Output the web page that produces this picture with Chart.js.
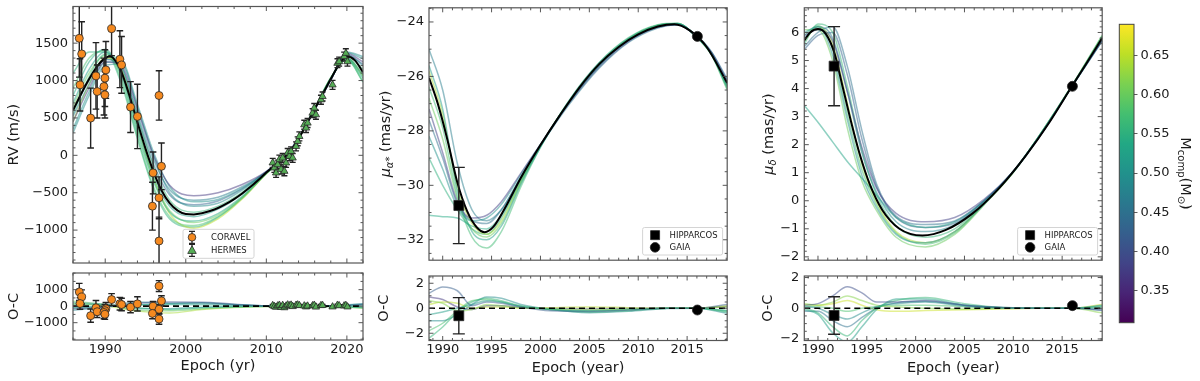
<!DOCTYPE html>
<html>
<head>
<meta charset="utf-8">
<script src="https://cdn.jsdelivr.net/npm/chart.js@4.4.1/dist/chart.umd.min.js"></script>
<style>
  html, body { margin: 0; padding: 0; background: #fff; }
  #fig { position: relative; width: 1200px; height: 381px; overflow: hidden; }
  #fig canvas { position: absolute; }
</style>
</head>
<body>
<div id="fig">
  <canvas id="rv" width="372" height="268" style="left:0;top:0"></canvas>
  <canvas id="pma" width="360" height="268" style="left:375px;top:0"></canvas>
  <canvas id="pmd" width="355" height="268" style="left:755px;top:0"></canvas>
  <canvas id="rvoc" width="372" height="113" style="left:0;top:268px"></canvas>
  <canvas id="pmaoc" width="360" height="113" style="left:375px;top:268px"></canvas>
  <canvas id="pmdoc" width="355" height="113" style="left:755px;top:268px"></canvas>
  <canvas id="cbar" width="95" height="381" style="left:1105px;top:0"></canvas>
</div>
<script>
// axis limits / ticks
const rvEpochRange = [1986, 2022];
const rvRange = [-1440, 1990];
const rvOcRange = [-2050, 2010];
const pmEpochRange = [1988.6, 2019.1];
const pmaRange = [-32.75, -23.48];
const pmaOcRange = [-2.58, 2.58];
const pmdRange = [-2.12, 6.88];
const pmdOcRange = [-2.1, 2.1];
const massRange = [0.309, 0.69];

const rvEpochTicks = [1990, 2000, 2010, 2020];
const rvTicks = [-1000, -500, 0, 500, 1000, 1500];
const rvOcTicks = [-1000, 0, 1000];
const pmEpochTicks = [1990, 1995, 2000, 2005, 2010, 2015];
const pmaTicks = [-32, -30, -28, -26, -24];
const pmdTicks = [-2, -1, 0, 1, 2, 3, 4, 5, 6];
const ocTicks = [-2, 0, 2];
const massTicks = [0.35, 0.40, 0.45, 0.50, 0.55, 0.60, 0.65];
const ocZero = [0, 0];

// radial velocities
const coravelEpoch = [1986.78, 1987.08, 1986.87, 1988.19, 1988.85, 1989.0, 1990.08, 1989.96, 1989.84, 1989.96, 1990.79, 1991.82, 1992.03, 1993.14, 1994.0, 1996.68, 1995.94, 1996.98, 1996.68, 1995.86, 1996.68];
const coravelRV = [1565, 1356, 942, 498, 1062, 853, 1142, 1032, 920, 809, 1693, 1285, 1209, 645, 520, 800, -235, -147, -568, -680, -1146];
const coravelErr = [520, 430, 350, 400, 445, 355, 380, 380, 380, 310, 360, 380, 380, 340, 430, 330, 280, 312, 280, 320, 320];
const coravelOC = [864, 560, 160, -576, -100, -336, -160, -270, -380, -490, 400, 150, 100, -60, 140, 1220, 0, 320, -190, -440, -780];

const hermesEpoch = [2010.79, 2011.0, 2011.21, 2011.41, 2011.62, 2011.83, 2012.03, 2012.24, 2012.45, 2012.65, 2012.86, 2013.07, 2013.27, 2013.69, 2013.89, 2014.1, 2014.71, 2014.93, 2015.12, 2015.74, 2015.95, 2016.16, 2016.78, 2016.98, 2018.22, 2018.83, 2019.04, 2019.66, 2019.87, 2020.07];
const hermesRV = [-101, -168, -235, -124, -57, -190, -35, -213, -101, 32, -13, 53, -35, 120, 187, 253, 409, 365, 432, 565, 632, 543, 743, 787, 942, 1232, 1253, 1320, 1365, 1253];
const hermesErr = [60, 60, 60, 60, 60, 60, 60, 60, 60, 60, 60, 60, 60, 60, 60, 60, 60, 60, 60, 60, 60, 60, 60, 60, 60, 60, 60, 60, 60, 60];
const hermesOC = [40, -20, -60, 20, 60, -70, 50, -90, 10, 80, 30, 70, -20, 60, 80, 40, 20, -40, 10, 30, 60, -50, 40, 50, -40, 60, 30, 20, 50, -40];

const rvFitEpoch = [1986, 1987, 1988, 1989, 1990, 1990.6, 1991, 1992, 1993, 1994, 1995, 1996, 1997, 1998, 1999, 2000, 2001, 2002, 2003, 2004, 2005, 2006, 2007, 2008, 2009, 2010, 2011, 2012, 2013, 2014, 2015, 2016, 2017, 2018, 2019, 2020, 2021, 2022];
const rvFit = [600, 820, 1020, 1190, 1300, 1320, 1300, 1120, 800, 440, 90, -220, -470, -640, -740, -785, -790, -775, -745, -705, -650, -585, -510, -425, -330, -230, -140, -50, 60, 220, 420, 620, 820, 1020, 1210, 1320, 1270, 1110];

const rvModelEpoch = [1986, 1988, 1990, 1992, 1994, 1996, 1998, 2001, 2004, 2007, 2010, 2013, 2016, 2018, 2020, 2022];
const rvModelMass = [0.37, 0.47, 0.50, 0.52, 0.54, 0.56, 0.58, 0.60, 0.65, 0.49, 0.43, 0.55];
const rvModels = [
  [450, 900, 1250, 1200, 620, 0, -400, -540, -500, -390, -215, 75, 610, 1005, 1360, 1250],
  [520, 950, 1280, 1180, 560, -60, -460, -600, -560, -420, -220, 70, 612, 1010, 1345, 1200],
  [350, 850, 1240, 1250, 680, 40, -420, -620, -590, -440, -222, 68, 615, 1012, 1370, 1290],
  [700, 1150, 1380, 1100, 380, -280, -680, -820, -720, -515, -232, 58, 622, 1025, 1310, 1080],
  [800, 1250, 1420, 1050, 300, -350, -760, -880, -780, -550, -238, 55, 625, 1030, 1295, 1030],
  [550, 1050, 1350, 1200, 520, -150, -600, -760, -680, -495, -228, 62, 618, 1018, 1330, 1150],
  [900, 1300, 1400, 1000, 250, -420, -820, -940, -820, -570, -242, 50, 628, 1035, 1285, 990],
  [650, 1100, 1330, 1080, 350, -320, -740, -900, -800, -560, -240, 52, 624, 1028, 1300, 1060],
  [450, 950, 1300, 1150, 420, -300, -780, -975, -850, -585, -245, 48, 626, 1032, 1305, 1070],
  [300, 800, 1200, 1220, 640, -10, -500, -680, -640, -465, -224, 66, 614, 1014, 1380, 1320],
  [600, 1000, 1290, 1150, 500, -120, -530, -660, -610, -450, -225, 65, 616, 1016, 1340, 1220],
  [1100, 1380, 1380, 960, 220, -450, -850, -960, -830, -575, -243, 50, 628, 1040, 1280, 980]
];

const rvOcEpoch = [1986, 1990, 1994, 1998, 2002, 2006, 2010, 2014, 2018, 2022];
const rvOcMass = [0.40, 0.55, 0.48, 0.50, 0.60, 0.52, 0.64, 0.53];
const rvOcModels = [
  [-150, -50, 180, 250, 240, 120, 20, 10, 10, 100],
  [100, 80, -100, -200, -100, -40, -5, -5, -10, -50],
  [-250, -60, 250, 180, 180, 90, 15, 8, 30, 150],
  [200, 100, -150, -150, -60, -20, -10, -5, -15, -80],
  [300, 100, -250, -280, -160, -60, -15, -10, -20, -120],
  [-50, -10, 100, 100, 90, 50, 10, 5, 15, 60],
  [150, 20, -300, -420, -200, -80, -15, -8, -15, -100],
  [-100, -30, 80, 150, 200, 100, 15, 5, 20, 120]
];

// proper motions
const hipEpoch = [1991.65];
const gaiaEpoch = [2016.05];
const hipPma = [-30.74];
const hipPmaErr = [1.4];
const gaiaPma = [-24.53];
const hipPmaOC = [-0.6];
const hipPmaOCErr = [1.45];
const gaiaPmaOC = [-0.14];
const hipPmd = [4.8];
const hipPmdErr = [1.41];
const gaiaPmd = [4.08];
const hipPmdOC = [-0.47];
const hipPmdOCErr = [1.22];
const gaiaPmdOC = [0.17];

const pmaFitEpoch = [1988.6, 1989.5, 1990.5, 1991.5, 1992.5, 1993.5, 1994.3, 1995.2, 1996.5, 1998, 2000, 2002, 2004, 2006, 2008, 2010, 2012, 2013.7, 2015.3, 2017, 2019.1];
const pmaFit = [-26.05, -27.0, -28.35, -29.9, -30.95, -31.55, -31.72, -31.52, -30.75, -29.72, -28.52, -27.42, -26.4, -25.55, -24.92, -24.46, -24.17, -24.08, -24.32, -24.92, -26.24];

const pmModelEpoch = [1988.6, 1990, 1991.5, 1993, 1994.5, 1996, 1998, 2000, 2003, 2006, 2009, 2012, 2014, 2016, 2017.5, 2019.1];
const pmaModelMass = [0.38, 0.47, 0.50, 0.52, 0.54, 0.57, 0.60, 0.64, 0.45, 0.55];
const pmaModels = [
  [-27.2, -28.8, -30.6, -31.2, -31.1, -30.6, -29.55, -28.5, -26.95, -25.65, -24.72, -24.2, -24.1, -24.55, -25.12, -26.15],
  [-25.0, -26.5, -29.2, -30.9, -31.3, -30.9, -29.7, -28.55, -27.0, -25.7, -24.75, -24.22, -24.1, -24.5, -25.1, -26.1],
  [-28.2, -29.4, -30.8, -31.3, -31.2, -30.7, -29.6, -28.5, -26.9, -25.6, -24.68, -24.18, -24.08, -24.54, -25.15, -26.3],
  [-25.6, -27.2, -30.2, -31.7, -32.0, -31.5, -29.95, -28.6, -26.85, -25.5, -24.6, -24.12, -24.06, -24.56, -25.2, -26.4],
  [-31.1, -31.15, -31.2, -31.5, -31.6, -31.1, -29.8, -28.55, -26.92, -25.6, -24.65, -24.15, -24.07, -24.55, -25.18, -26.35],
  [-26.4, -27.9, -30.4, -31.9, -32.3, -31.7, -30.05, -28.6, -26.85, -25.5, -24.58, -24.1, -24.05, -24.57, -25.22, -26.5],
  [-26.8, -28.3, -30.5, -31.6, -31.9, -31.4, -29.9, -28.55, -26.88, -25.55, -24.62, -24.12, -24.06, -24.56, -25.2, -26.45],
  [-25.8, -27.4, -30.1, -31.4, -31.8, -31.3, -29.85, -28.55, -26.9, -25.55, -24.63, -24.13, -24.07, -24.56, -25.18, -26.35],
  [-27.6, -29.0, -30.7, -31.3, -31.4, -30.9, -29.7, -28.52, -26.92, -25.6, -24.68, -24.17, -24.09, -24.55, -25.14, -26.2],
  [-29.0, -30.0, -30.9, -31.6, -31.8, -31.2, -29.85, -28.55, -26.9, -25.57, -24.64, -24.14, -24.07, -24.55, -25.16, -26.3]
];

const pmOcEpoch = [1988.6, 1990, 1991.5, 1993, 1994.5, 1996, 1998, 2001, 2005, 2009, 2013, 2016, 2019.1];
const pmaOcMass = [0.42, 0.56, 0.62, 0.49, 0.52, 0.65, 0.58, 0.37];
const pmaOcModels = [
  [1.2, 1.7, 1.4, 0.2, 0.5, 0.4, 0.1, -0.2, -0.25, -0.15, 0, 0, 0.3],
  [-2.4, -1.5, -0.3, 0.5, 0.8, 0.6, 0.2, -0.1, -0.3, -0.2, 0, 0, -0.3],
  [0.6, 0.4, -0.2, -0.1, 0.3, 0.2, 0.05, -0.05, -0.1, -0.05, 0, 0.02, 0.1],
  [-1.0, -1.0, -0.5, 0.3, 0.9, 0.8, 0.3, -0.1, -0.35, -0.25, -0.02, 0, -0.4],
  [-0.5, -0.3, 0.0, 0.3, 0.6, 0.5, 0.15, -0.1, -0.2, -0.1, 0, 0, -0.2],
  [0.3, 0.5, 0.4, 0.0, 0.1, 0.1, 0.0, 0.05, 0.1, 0.05, 0, 0, 0.2],
  [-1.8, -1.2, -0.2, 0.6, 0.7, 0.5, 0.15, -0.05, -0.2, -0.1, 0, 0, -0.2],
  [0.9, 0.7, 0.1, -0.1, 0.2, 0.2, 0.05, 0.0, -0.05, 0, 0, 0, 0.15]
];

const pmdFitEpoch = [1988.6, 1989.2, 1990, 1990.8, 1991.7, 1992.5, 1993.4, 1994.3, 1995.3, 1996.6, 1998.3, 2000.7, 2003.1, 2005.8, 2008.6, 2011.3, 2013.7, 2016, 2017.4, 2019.1];
const pmdFit = [5.72, 6.0, 6.12, 5.95, 5.25, 4.1, 2.8, 1.63, 0.59, -0.34, -0.99, -1.24, -1.04, -0.46, 0.47, 1.62, 2.8, 4.08, 4.85, 5.8];

const pmdModelEpoch = [1988.6, 1990, 1991.5, 1993, 1994.5, 1996, 1998, 2001, 2004, 2007, 2010, 2013, 2016, 2019.1];
const pmdModelMass = [0.38, 0.45, 0.48, 0.50, 0.53, 0.56, 0.60, 0.64, 0.43, 0.57];
const pmdModels = [
  [5.9, 6.1, 5.7, 3.9, 1.9, 0.45, -0.45, -0.75, -0.6, 0.05, 1.05, 2.45, 4.08, 5.7],
  [5.5, 6.0, 6.2, 4.8, 2.5, 0.6, -0.55, -0.85, -0.72, 0.0, 1.03, 2.45, 4.08, 5.72],
  [5.8, 6.2, 5.8, 3.9, 1.7, 0.3, -0.75, -1.1, -0.85, -0.03, 1.05, 2.47, 4.08, 5.75],
  [6.0, 6.2, 5.2, 2.9, 0.9, -0.25, -1.2, -1.5, -1.1, -0.12, 1.03, 2.49, 4.1, 5.85],
  [3.4, 2.8, 2.1, 1.4, 0.8, 0.2, -0.6, -0.95, -0.75, 0.0, 1.05, 2.47, 4.07, 5.7],
  [5.6, 6.3, 6.0, 4.1, 1.8, 0.2, -0.9, -1.3, -1.0, -0.08, 1.03, 2.49, 4.1, 5.8],
  [6.1, 6.1, 5.0, 2.6, 0.7, -0.35, -1.3, -1.65, -1.2, -0.15, 1.01, 2.5, 4.1, 5.88],
  [5.7, 6.2, 5.6, 3.5, 1.3, -0.05, -1.1, -1.5, -1.1, -0.1, 1.03, 2.49, 4.1, 5.85],
  [5.4, 5.9, 6.0, 4.5, 2.2, 0.5, -0.6, -0.95, -0.8, -0.02, 1.05, 2.46, 4.08, 5.75],
  [5.9, 6.25, 5.4, 3.1, 1.1, -0.15, -1.15, -1.55, -1.15, -0.12, 1.02, 2.49, 4.1, 5.9]
];

const pmdOcMass = [0.40, 0.56, 0.49, 0.62, 0.52, 0.58, 0.45, 0.66];
const pmdOcModels = [
  [0.2, 0.3, 0.8, 1.4, 1.0, 0.4, 0.4, 0.5, 0.2, 0.05, 0, 0, -0.1],
  [0.0, -0.3, -1.2, -1.8, -0.8, 0.0, 0.5, 0.7, 0.3, 0.05, 0, 0, 0.1],
  [0.1, 0.0, -0.4, -0.7, -0.3, 0.1, 0.3, 0.4, 0.15, 0.02, 0, 0, 0.2],
  [0.3, 0.2, 0.4, 0.8, 0.5, 0.2, 0.1, 0.0, -0.05, 0, 0, 0, -0.3],
  [-0.1, -0.4, -1.6, -2.2, -1.2, -0.1, 0.6, 0.6, 0.2, 0.03, 0, 0, 0.0],
  [0.15, 0.1, 0.0, -0.2, 0.0, 0.1, 0.2, 0.2, 0.1, 0.0, 0, 0, 0.15],
  [-0.2, -0.2, -0.8, -1.2, -0.6, 0.0, 0.35, 0.45, 0.2, 0.04, 0, 0, -0.15],
  [0.25, 0.2, 0.3, 0.5, 0.2, -0.1, -0.2, -0.15, -0.1, -0.05, 0, 0, 0.25]
];

// ---------------------------------------------------------------
const FONT = "'DejaVu Sans', sans-serif";
const INK = '#1a1a1a';
const VIRIDIS = ['#440154', '#482475', '#414487', '#355f8d', '#2a788e', '#21918c', '#22a884', '#44bf70', '#7ad151', '#bddf26', '#fde725'];
const ORANGE = '#f5891f';
const GREEN = '#55ad55';
const TICK_PX = 13;
const TITLE_PX = 14.5;
Chart.defaults.font.family = FONT;
Chart.defaults.color = INK;

function hex(h) { return [1, 3, 5].map(k => parseInt(h.substr(k, 2), 16)); }
function massColor(m, alpha) {
  let t = (m - massRange[0]) / (massRange[1] - massRange[0]);
  t = Math.min(1, Math.max(0, t)) * (VIRIDIS.length - 1);
  const i = Math.min(Math.floor(t), VIRIDIS.length - 2), f = t - i;
  const a = hex(VIRIDIS[i]), b = hex(VIRIDIS[i + 1]);
  const c = a.map((v, k) => Math.round(v + (b[k] - v) * f));
  return 'rgba(' + c.join(',') + ',' + alpha + ')';
}
function xy(xs, ys) { return xs.map((x, i) => ({x: x, y: ys[i]})); }
function fmt(v) { return String(v).replace('-', '\u2212'); }

function modelLines(xs, curves, masses) {
  return curves.map((c, i) => ({
    data: xy(xs, c), showLine: true, pointRadius: 0, borderWidth: 1.5,
    borderColor: massColor(masses[i], 0.5), cubicInterpolationMode: 'monotone', order: 5
  }));
}
function fitLine(xs, ys) {
  return {data: xy(xs, ys), showLine: true, pointRadius: 0, borderWidth: 2, borderColor: '#000', cubicInterpolationMode: 'monotone', order: 2};
}
function zeroLine(range) {
  return {data: xy(range, ocZero), showLine: true, pointRadius: 0, borderWidth: 1.6, borderColor: '#000', borderDash: [6, 4], order: 2};
}
function markers(xs, ys, errs, style, r, fill, cap) {
  return {data: xy(xs, ys), errs: errs, cap: cap, showLine: false, pointStyle: style, pointRadius: r,
    pointBackgroundColor: fill, pointBorderColor: '#2a2a2a', pointBorderWidth: 0.8, order: 0};
}

// error bars drawn just before their marker dataset
const errorBars = {
  id: 'errorBars',
  beforeDatasetDraw(chart, args) {
    const ds = chart.data.datasets[args.index];
    if (!ds.errs) return;
    const {ctx, chartArea: a, scales: {x, y}} = chart;
    ctx.save();
    ctx.beginPath(); ctx.rect(a.left, a.top, a.right - a.left, a.bottom - a.top); ctx.clip();
    ctx.strokeStyle = '#222'; ctx.lineWidth = 1.4;
    ds.data.forEach((p, i) => {
      const px = x.getPixelForValue(p.x);
      const y1 = y.getPixelForValue(p.y + ds.errs[i]), y2 = y.getPixelForValue(p.y - ds.errs[i]);
      ctx.beginPath();
      ctx.moveTo(px, y1); ctx.lineTo(px, y2);
      ctx.moveTo(px - ds.cap, y1); ctx.lineTo(px + ds.cap, y1);
      ctx.moveTo(px - ds.cap, y2); ctx.lineTo(px + ds.cap, y2);
      ctx.stroke();
    });
    ctx.restore();
  }
};

// frame + inward ticks on all four sides
function framePlugin(xMinor, yMinor) {
  return {
    id: 'frame',
    afterDraw(chart) {
      const {ctx, chartArea: a, scales: {x, y}} = chart;
      const minors = (s, step) => {
        const out = [], majors = s.ticks.map(t => t.value);
        for (let k = Math.ceil(s.min / step); k <= Math.floor(s.max / step); k++) {
          const v = k * step;
          if (!majors.some(m => Math.abs(m - v) < step * 0.01)) out.push(v);
        }
        return out;
      };
      ctx.save();
      ctx.strokeStyle = '#444'; ctx.lineWidth = 0.9;
      ctx.beginPath();
      const xt = (v, len) => { const p = x.getPixelForValue(v); ctx.moveTo(p, a.bottom); ctx.lineTo(p, a.bottom - len); ctx.moveTo(p, a.top); ctx.lineTo(p, a.top + len); };
      const yt = (v, len) => { const p = y.getPixelForValue(v); ctx.moveTo(a.left, p); ctx.lineTo(a.left + len, p); ctx.moveTo(a.right, p); ctx.lineTo(a.right - len, p); };
      x.ticks.forEach(t => xt(t.value, 4.5));
      minors(x, xMinor).forEach(v => xt(v, 2.5));
      y.ticks.forEach(t => yt(t.value, 4.5));
      minors(y, yMinor).forEach(v => yt(v, 2.5));
      ctx.stroke();
      ctx.strokeStyle = '#555'; ctx.lineWidth = 1.2;
      ctx.strokeRect(a.left, a.top, a.right - a.left, a.bottom - a.top);
      ctx.restore();
    }
  };
}

function drawMarker(ctx, style, x, y, r) {
  ctx.beginPath();
  if (style === 'circle') ctx.arc(x, y, r, 0, 2 * Math.PI);
  else if (style === 'rect') ctx.rect(x - r, y - r, 2 * r, 2 * r);
  else { ctx.moveTo(x, y - r); ctx.lineTo(x + r * 0.95, y + r * 0.7); ctx.lineTo(x - r * 0.95, y + r * 0.7); ctx.closePath(); }
  ctx.fill(); ctx.stroke();
}

// legend box inside the plot
function legendPlugin(cfg) {
  return {
    id: 'legendBox',
    afterDraw(chart) {
      const {ctx, chartArea: a} = chart;
      const x0 = cfg.left != null ? a.left + cfg.left : a.right - cfg.right - cfg.w;
      const y0 = a.bottom - cfg.bottom - cfg.h;
      ctx.save();
      ctx.fillStyle = 'rgba(255,255,255,0.85)'; ctx.strokeStyle = '#d4d4d4'; ctx.lineWidth = 1;
      ctx.beginPath(); ctx.roundRect(x0, y0, cfg.w, cfg.h, 2); ctx.fill(); ctx.stroke();
      cfg.items.forEach((it, i) => {
        const cy = y0 + cfg.h / 2 + (i - 0.5) * cfg.row, mx = x0 + cfg.mx;
        ctx.strokeStyle = '#222'; ctx.lineWidth = 1.2;
        if (it.err) {
          ctx.beginPath();
          ctx.moveTo(mx, cy - 6); ctx.lineTo(mx, cy + 6);
          ctx.moveTo(mx - 3, cy - 6); ctx.lineTo(mx + 3, cy - 6);
          ctx.moveTo(mx - 3, cy + 6); ctx.lineTo(mx + 3, cy + 6);
          ctx.stroke();
        }
        ctx.fillStyle = it.color; ctx.strokeStyle = '#2a2a2a'; ctx.lineWidth = 0.8;
        drawMarker(ctx, it.style, mx, cy, it.r);
        ctx.fillStyle = INK; ctx.font = '8.5px ' + FONT; ctx.textBaseline = 'middle'; ctx.textAlign = 'left';
        ctx.fillText(it.label, x0 + cfg.tx, cy + 0.5);
      });
      ctx.restore();
    }
  };
}

// axis label with sub-scripts, drawn as real text
function richTitle(parts, x, rot) {
  return {
    id: 'richTitle',
    afterDraw(chart) {
      const {ctx, chartArea: a} = chart;
      const font = p => (p[2] ? 'italic ' : '') + p[1] + 'px ' + FONT;
      ctx.save();
      const widths = parts.map(p => { ctx.font = font(p); return ctx.measureText(p[0]).width; });
      const total = widths.reduce((s, w) => s + w, 0);
      ctx.translate(x, (a.top + a.bottom) / 2);
      ctx.rotate(rot);
      ctx.fillStyle = INK; ctx.textBaseline = 'alphabetic'; ctx.textAlign = 'left';
      let cx = -total / 2;
      parts.forEach((p, i) => { ctx.font = font(p); ctx.fillText(p[0], cx, 5 + p[3]); cx += widths[i]; });
      ctx.restore();
    }
  };
}

function xScale(range, majors, h, labels, title, titleBottom) {
  return {
    type: 'linear', min: range[0], max: range[1],
    afterBuildTicks: s => { s.ticks = majors.map(v => ({value: v})); },
    afterFit: s => { s.height = h; s.paddingLeft = 0; s.paddingRight = 0; },
    grid: {display: false, drawTicks: false}, border: {display: false},
    ticks: {display: labels, padding: 1.5, color: INK, font: {family: FONT, size: TICK_PX}, callback: v => fmt(v)},
    title: title ? {display: true, text: title, color: INK, font: {family: FONT, size: TITLE_PX}, padding: {top: 0, bottom: titleBottom}} : {display: false}
  };
}
function yScale(range, majors, w, title, titleTop) {
  return {
    type: 'linear', min: range[0], max: range[1],
    afterBuildTicks: s => { s.ticks = majors.map(v => ({value: v})); },
    afterFit: s => { s.width = w; s.paddingTop = 0; s.paddingBottom = 0; },
    grid: {display: false, drawTicks: false}, border: {display: false},
    ticks: {padding: 5, color: INK, font: {family: FONT, size: TICK_PX}, callback: v => fmt(v)},
    title: title ? {display: true, text: title, color: INK, font: {family: FONT, size: TITLE_PX}, padding: {top: titleTop, bottom: 0}} : {display: false}
  };
}

function panel(id, datasets, scales, pad, plugins) {
  return new Chart(document.getElementById(id), {
    type: 'scatter',
    data: {datasets: datasets},
    options: {
      responsive: false, animation: false, devicePixelRatio: 1, events: [],
      layout: {padding: pad},
      plugins: {legend: {display: false}, tooltip: {enabled: false}},
      scales: scales
    },
    plugins: [errorBars].concat(plugins)
  });
}

const rvLegend = {left: 110, bottom: 4.7, w: 71, h: 29, row: 13, mx: 9, tx: 28, items: [
  {label: 'CORAVEL', style: 'circle', r: 3.8, color: ORANGE, err: true},
  {label: 'HERMES', style: 'triangle', r: 4.5, color: GREEN, err: true}]};
const pmLegend = {right: 4.6, bottom: 5.2, w: 80, h: 27.5, row: 12.2, mx: 12.5, tx: 27, items: [
  {label: 'HIPPARCOS', style: 'rect', r: 4.5, color: '#000'},
  {label: 'GAIA', style: 'circle', r: 4.8, color: '#000'}]};

// RV panel
panel('rv', [
  markers(coravelEpoch, coravelRV, coravelErr, 'circle', 4, ORANGE, 3.3),
  markers(hermesEpoch, hermesRV, hermesErr, 'triangle', 4.2, GREEN, 3),
  fitLine(rvFitEpoch, rvFit)
].concat(modelLines(rvModelEpoch, rvModels, rvModelMass)),
  {x: xScale(rvEpochRange, rvEpochTicks, 4, false), y: yScale(rvRange, rvTicks, 73, 'RV (m/s)', 5.8)},
  {top: 6.5, right: 9, left: 0, bottom: 0},
  [framePlugin(2, 100), legendPlugin(rvLegend)]);

panel('rvoc', [
  markers(coravelEpoch, coravelOC, coravelErr, 'circle', 4, ORANGE, 3.3),
  markers(hermesEpoch, hermesOC, hermesErr, 'triangle', 4.2, GREEN, 3),
  zeroLine(rvEpochRange)
].concat(modelLines(rvOcEpoch, rvOcModels, rvOcMass)),
  {x: xScale(rvEpochRange, rvEpochTicks, 41, true, 'Epoch (yr)', 5.8), y: yScale(rvOcRange, rvOcTicks, 73, 'O-C', 5.8)},
  {top: 4, right: 9, left: 0, bottom: 0},
  [framePlugin(2, 500)]);

// proper motion in RA
panel('pma', [
  markers(hipEpoch, hipPma, hipPmaErr, 'rect', 7, '#000', 6),
  markers(gaiaEpoch, gaiaPma, [0], 'circle', 5, '#000', 0),
  fitLine(pmaFitEpoch, pmaFit)
].concat(modelLines(pmModelEpoch, pmaModels, pmaModelMass)),
  {x: xScale(pmEpochRange, pmEpochTicks, 4, false), y: yScale(pmaRange, pmaTicks, 54)},
  {top: 6.5, right: 7.3, left: 0, bottom: 0},
  [framePlugin(1, 0.5), legendPlugin(pmLegend),
   richTitle([['\u03bc', TITLE_PX, true, 0], ['\u03b1*', 10, true, 3], [' (mas/yr)', TITLE_PX, false, 0]], 10, -Math.PI / 2)]);

panel('pmaoc', [
  markers(hipEpoch, hipPmaOC, hipPmaOCErr, 'rect', 7, '#000', 6),
  markers(gaiaEpoch, gaiaPmaOC, [0], 'circle', 5, '#000', 0),
  zeroLine(pmEpochRange)
].concat(modelLines(pmOcEpoch, pmaOcModels, pmaOcMass)),
  {x: xScale(pmEpochRange, pmEpochTicks, 40.5, true, 'Epoch (year)', 4), y: yScale(pmaOcRange, ocTicks, 54, 'O-C', 1)},
  {top: 8, right: 7.3, left: 0, bottom: 0},
  [framePlugin(1, 0.5)]);

// proper motion in Dec
panel('pmd', [
  markers(hipEpoch, hipPmd, hipPmdErr, 'rect', 7, '#000', 6),
  markers(gaiaEpoch, gaiaPmd, [0], 'circle', 5, '#000', 0),
  fitLine(pmdFitEpoch, pmdFit)
].concat(modelLines(pmdModelEpoch, pmdModels, pmdModelMass)),
  {x: xScale(pmEpochRange, pmEpochTicks, 4, false), y: yScale(pmdRange, pmdTicks, 49.3)},
  {top: 6.5, right: 7.7, left: 0, bottom: 0},
  [framePlugin(1, 0.2), legendPlugin(pmLegend),
   richTitle([['\u03bc', TITLE_PX, true, 0], ['\u03b4', 10, true, 3], [' (mas/yr)', TITLE_PX, false, 0]], 13.3, -Math.PI / 2)]);

panel('pmdoc', [
  markers(hipEpoch, hipPmdOC, hipPmdOCErr, 'rect', 7, '#000', 6),
  markers(gaiaEpoch, gaiaPmdOC, [0], 'circle', 5, '#000', 0),
  zeroLine(pmEpochRange)
].concat(modelLines(pmOcEpoch, pmdOcModels, pmdOcMass)),
  {x: xScale(pmEpochRange, pmEpochTicks, 40.5, true, 'Epoch (year)', 4), y: yScale(pmdOcRange, ocTicks, 49.3, 'O-C', 4.5)},
  {top: 8, right: 7.7, left: 0, bottom: 0},
  [framePlugin(1, 0.5)]);

// colour bar for companion mass
new Chart(document.getElementById('cbar'), {
  type: 'bar',
  data: {labels: [''], datasets: [{
    data: [[massRange[0], massRange[1]]], barPercentage: 1, categoryPercentage: 1, borderWidth: 0,
    backgroundColor: c => {
      const ch = c.chart;
      if (!ch.chartArea) return '#21918c';
      const y = ch.scales.y;
      const g = ch.ctx.createLinearGradient(0, y.getPixelForValue(massRange[0]), 0, y.getPixelForValue(massRange[1]));
      VIRIDIS.forEach((col, i) => g.addColorStop(i / (VIRIDIS.length - 1), col));
      return g;
    }
  }]},
  options: {
    responsive: false, animation: false, devicePixelRatio: 1, events: [],
    layout: {padding: {left: 14.3, top: 24.3, bottom: 58.3, right: 0}},
    plugins: {legend: {display: false}, tooltip: {enabled: false}},
    scales: {
      x: {display: false},
      y: {
        position: 'right', min: massRange[0], max: massRange[1],
        afterBuildTicks: s => { s.ticks = massTicks.map(v => ({value: v})); },
        afterFit: s => { s.width = 66; s.paddingTop = 0; s.paddingBottom = 0; },
        grid: {display: true, drawOnChartArea: false, drawTicks: true, tickLength: 3.5, color: '#333', lineWidth: 0.8},
        border: {display: false},
        ticks: {padding: 3, color: INK, font: {family: FONT, size: TICK_PX}, callback: v => v.toFixed(2)}
      }
    }
  },
  plugins: [
    {id: 'cbOutline', afterDraw(chart) {
      const {ctx, chartArea: a} = chart;
      ctx.save(); ctx.strokeStyle = '#444'; ctx.lineWidth = 1;
      ctx.strokeRect(a.left, a.top, a.right - a.left, a.bottom - a.top); ctx.restore();
    }},
    richTitle([['M', TITLE_PX, false, 0], ['comp', 10, false, 3], ['(M', TITLE_PX, false, 0], ['\u2299', 10, false, 3], [')', TITLE_PX, false, 0]], 81, Math.PI / 2)
  ]
});
</script>
</body>
</html>
